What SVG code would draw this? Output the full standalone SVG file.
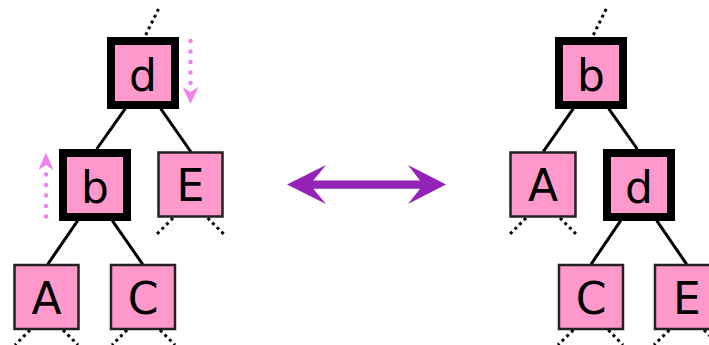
<svg xmlns="http://www.w3.org/2000/svg" width="709" height="345" viewBox="0 0 709 345">
<defs>
<style>
.n rect{fill:#ff99cc;stroke:#222;stroke-width:2.5}
.n.k rect{stroke:#000;stroke-width:8}
.n text{font-family:"DejaVu Sans",sans-serif;font-size:44px;fill:#000;text-anchor:middle}
.e{stroke:#000;stroke-width:3;fill:none}
.dt{stroke:#000;stroke-width:3;stroke-dasharray:3 3.5;fill:none}
.pk{stroke:#ee82ee;stroke-width:4.5;stroke-linecap:round;stroke-dasharray:0 10.5;fill:none}
.pkh{fill:#ee82ee}
</style>
</defs>
<g id="connectors">
<!-- left tree -->
<line class="e" x1="125.3" y1="108.7" x2="96.7" y2="149"/>
<line class="e" x1="160.7" y1="108.7" x2="191" y2="152"/>
<line class="e" x1="77.7" y1="220.7" x2="47.7" y2="264.3"/>
<line class="e" x1="112.3" y1="220.7" x2="142.7" y2="264.3"/>
<line class="dt" x1="145.7" y1="35" x2="159" y2="8"/>
<line class="dt" x1="173" y1="218" x2="157" y2="234"/>
<line class="dt" x1="207.7" y1="218" x2="223.7" y2="234"/>
<line class="dt" x1="30" y1="330" x2="15" y2="345"/>
<line class="dt" x1="63" y1="330" x2="78" y2="345"/>
<line class="dt" x1="127" y1="330" x2="112" y2="345"/>
<line class="dt" x1="160" y1="330" x2="175" y2="345"/>
<!-- right tree -->
<line class="e" x1="573.3" y1="108.7" x2="543.3" y2="151.7"/>
<line class="e" x1="608.7" y1="108.7" x2="637.3" y2="149"/>
<line class="e" x1="620.7" y1="220.7" x2="591" y2="264.3"/>
<line class="e" x1="656.7" y1="220.7" x2="686.7" y2="264.3"/>
<line class="dt" x1="593.3" y1="35" x2="606.7" y2="8"/>
<line class="dt" x1="526" y1="218" x2="510" y2="234"/>
<line class="dt" x1="560" y1="218" x2="576" y2="234"/>
<line class="dt" x1="573.3" y1="330" x2="558" y2="345"/>
<line class="dt" x1="608.3" y1="330" x2="623" y2="345"/>
<line class="dt" x1="669.3" y1="330" x2="654" y2="345"/>
<line class="dt" x1="704" y1="330" x2="719" y2="345"/>
<!-- pink rotation arrows -->
<line class="pk" x1="190.5" y1="41" x2="190.5" y2="84"/>
<polygon class="pkh" points="190.5,104 182.5,87 190.5,92 198.5,87"/>
<line class="pk" x1="46" y1="216.5" x2="46" y2="174"/>
<polygon class="pkh" points="46,152.5 38.5,170 46,165 53.5,170"/>
<!-- double arrow -->
<polygon fill="#9423b8" points="287,184.5 326,165 313.3,180.5 420,180.5 408,165 446,184.5 408,204 420,188.7 313.3,188.7 326,204"/>
</g>
<g id="L_d" class="n k"><rect x="111" y="41" width="64" height="64"/><text x="143" y="91">d</text></g>
<g id="L_b" class="n k"><rect x="63" y="153" width="64" height="64"/><text x="95" y="203">b</text></g>
<g id="L_E" class="n"><rect x="158.5" y="152.5" width="64" height="64"/><text x="190.5" y="201">E</text></g>
<g id="L_A" class="n"><rect x="14.5" y="265" width="64" height="64"/><text x="46.5" y="314">A</text></g>
<g id="L_C" class="n"><rect x="111" y="265" width="64" height="64"/><text x="143" y="314">C</text></g>
<g id="R_b" class="n k"><rect x="559" y="41" width="64" height="64"/><text x="591" y="91">b</text></g>
<g id="R_A" class="n"><rect x="510.5" y="152.5" width="65" height="64"/><text x="543" y="201">A</text></g>
<g id="R_d" class="n k"><rect x="607" y="153" width="64" height="64"/><text x="639" y="203">d</text></g>
<g id="R_C" class="n"><rect x="559" y="265" width="64" height="64"/><text x="591" y="314">C</text></g>
<g id="R_E" class="n"><rect x="655" y="265" width="64" height="64"/><text x="687" y="314">E</text></g>
</svg>
